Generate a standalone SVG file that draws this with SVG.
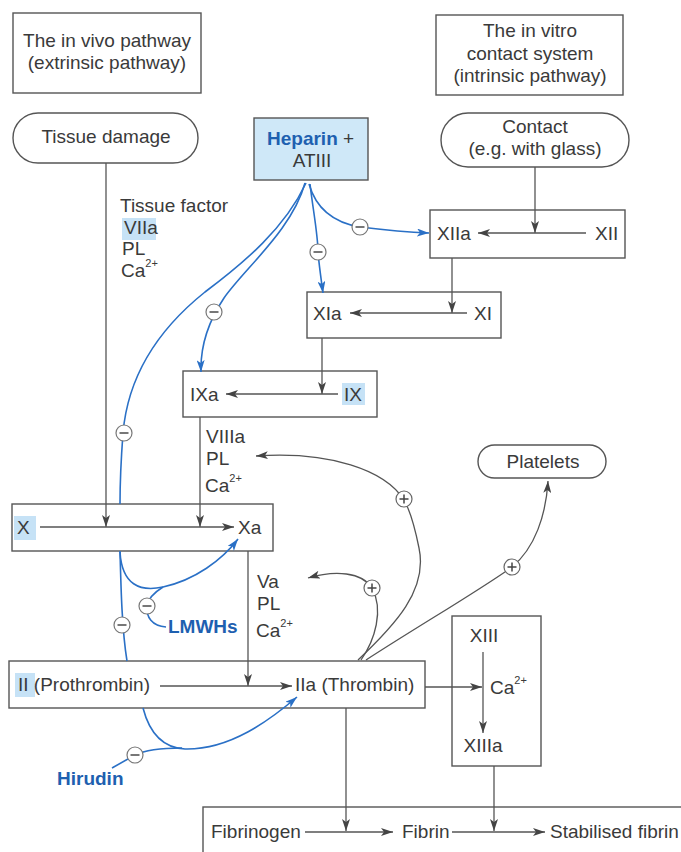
<svg xmlns="http://www.w3.org/2000/svg" xmlns:xlink="http://www.w3.org/1999/xlink" width="681" height="852" viewBox="0 0 681 852">
<style>
text{font-family:"Liberation Sans",Arial,sans-serif;font-size:19px;fill:#3a3a3a}
.c{text-anchor:middle}
.b{font-weight:bold;fill:#1e60b0}
.sup{font-size:11px}
.box{fill:#fff;stroke:#555;stroke-width:1.4}
.hl{fill:#c6e2f6}
.ln{fill:none;stroke:#555;stroke-width:1.3}
.bl{fill:none;stroke:#2a70c6;stroke-width:1.6}
</style>
<defs>
<marker id="ag" viewBox="0 0 12 8" refX="12" refY="4" markerWidth="12" markerHeight="8" markerUnits="userSpaceOnUse" orient="auto"><path d="M0,0 L12,4 L0,8 L3,4 z" fill="#444"/></marker>
<marker id="ab" viewBox="0 0 12 8" refX="12" refY="4" markerWidth="12" markerHeight="8" markerUnits="userSpaceOnUse" orient="auto"><path d="M0,0 L12,4 L0,8 L3,4 z" fill="#2a70c6"/></marker>
<g id="minus"><circle r="8" fill="#fff" stroke="#777" stroke-width="1.2"/><line x1="-4.5" y1="0" x2="4.5" y2="0" stroke="#555" stroke-width="1.6"/></g>
<g id="plus"><circle r="8" fill="#fff" stroke="#666" stroke-width="1.2"/><line x1="-4.5" y1="0" x2="4.5" y2="0" stroke="#444" stroke-width="1.5"/><line x1="0" y1="-4.5" x2="0" y2="4.5" stroke="#444" stroke-width="1.5"/></g>
</defs>

<g id="invivo"><rect class="box" x="13" y="13" width="188" height="80"/><text class="c" x="107" y="47">The in vivo pathway</text><text class="c" x="107" y="69">(extrinsic pathway)</text></g>
<g id="tissue-damage"><rect class="box" x="13" y="113" width="185" height="50" rx="25"/><text class="c" x="106" y="143">Tissue damage</text></g>
<g id="heparin"><rect x="254" y="118" width="114" height="62" fill="#cfe8f8" stroke="#555" stroke-width="1.4"/><text x="267" y="145"><tspan class="b">Heparin</tspan> +</text><text class="c" x="312" y="167">ATIII</text></g>
<g id="invitro"><rect class="box" x="436" y="15" width="187" height="80"/><text class="c" x="530" y="37">The in vitro</text><text class="c" x="530" y="60">contact system</text><text class="c" x="530" y="82">(intrinsic pathway)</text></g>
<g id="contact"><rect class="box" x="441" y="113" width="188" height="54" rx="27"/><text class="c" x="535" y="133">Contact</text><text class="c" x="535" y="155">(e.g. with glass)</text></g>
<g id="tf-label"><rect class="hl" x="122" y="218" width="34" height="22"/><text x="120" y="212">Tissue factor</text><text x="124" y="234">VIIa</text><text x="122" y="255">PL</text><text x="121" y="277">Ca<tspan class="sup" dy="-10">2+</tspan></text></g>
<g id="xii-box"><rect class="box" x="430" y="210" width="195" height="48"/><text x="437" y="240">XIIa</text><text x="595" y="240">XII</text></g>
<g id="xi-box"><rect class="box" x="307" y="292" width="194" height="46"/><text x="313" y="320">XIa</text><text x="474" y="320">XI</text></g>
<g id="ix-box"><rect class="box" x="183" y="371" width="194" height="46"/><rect class="hl" x="342" y="383" width="23" height="22"/><text x="190" y="401">IXa</text><text x="344" y="401">IX</text></g>
<g id="viii-label"><text x="206" y="443">VIIIa</text><text x="206" y="465">PL</text><text x="205" y="492">Ca<tspan class="sup" dy="-10">2+</tspan></text></g>
<g id="x-box"><rect class="box" x="12" y="504" width="261" height="47"/><rect class="hl" x="14" y="516" width="22" height="24"/><text x="17" y="534">X</text><text x="238" y="534">Xa</text></g>
<g id="v-label"><text x="257" y="588">Va</text><text x="257" y="610">PL</text><text x="256" y="637">Ca<tspan class="sup" dy="-10">2+</tspan></text></g>
<g id="lmwhs"><text class="b" x="168" y="633">LMWHs</text></g>
<g id="ii-box"><rect class="box" x="9" y="661" width="416" height="47"/><rect class="hl" x="15" y="673" width="20" height="24"/><text x="18" y="691">II (Prothrombin)</text><text x="295" y="691">IIa (Thrombin)</text></g>
<g id="hirudin"><text class="b" x="57" y="785">Hirudin</text></g>
<g id="xiii-box"><rect class="box" x="452" y="616" width="89" height="150"/><text class="c" x="484" y="642">XIII</text><text x="490" y="694">Ca<tspan class="sup" dy="-10">2+</tspan></text><text class="c" x="483" y="752">XIIIa</text></g>
<g id="platelets"><rect class="box" x="478" y="445" width="128" height="33" rx="16.5"/><text class="c" x="543" y="468">Platelets</text></g>
<g id="fibrin-box"><rect class="box" x="203" y="807" width="500" height="60"/><text x="211" y="838">Fibrinogen</text><text x="402" y="838">Fibrin</text><text x="550" y="838">Stabilised fibrin</text></g>

<g id="connectors">
<line class="ln" x1="106" y1="163" x2="106" y2="527" marker-end="url(#ag)"/>
<line class="ln" x1="535" y1="167" x2="535" y2="233" marker-end="url(#ag)"/>
<line class="ln" x1="586" y1="233" x2="478" y2="233" marker-end="url(#ag)"/>
<line class="ln" x1="452" y1="258" x2="452" y2="313" marker-end="url(#ag)"/>
<line class="ln" x1="467" y1="313" x2="350" y2="313" marker-end="url(#ag)"/>
<line class="ln" x1="322" y1="338" x2="322" y2="394" marker-end="url(#ag)"/>
<line class="ln" x1="338" y1="394" x2="226" y2="394" marker-end="url(#ag)"/>
<line class="ln" x1="200" y1="417" x2="200" y2="527" marker-end="url(#ag)"/>
<line class="ln" x1="40" y1="527" x2="234" y2="527" marker-end="url(#ag)"/>
<line class="ln" x1="248" y1="551" x2="248" y2="686" marker-end="url(#ag)"/>
<line class="ln" x1="160" y1="686" x2="292" y2="686" marker-end="url(#ag)"/>
<line class="ln" x1="425" y1="687" x2="482" y2="687" marker-end="url(#ag)"/>
<line class="ln" x1="483" y1="652" x2="483" y2="733" marker-end="url(#ag)"/>
<line class="ln" x1="346" y1="708" x2="346" y2="831" marker-end="url(#ag)"/>
<line class="ln" x1="494" y1="766" x2="494" y2="831" marker-end="url(#ag)"/>
<line class="ln" x1="305" y1="832" x2="393" y2="832" marker-end="url(#ag)"/>
<line class="ln" x1="452" y1="832" x2="545" y2="832" marker-end="url(#ag)"/>
<path class="ln" d="M358,660 C395,625 428,590 419,548 C415,528 411,512 404,500 C385,470 330,451 256,456" marker-end="url(#ag)"/>
<path class="ln" d="M361,660 C375,640 384,610 372,588 C362,572 335,570 308,578" marker-end="url(#ag)"/>
<path class="ln" d="M366,660 C420,625 480,590 512,567 C535,548 546,515 548,481" marker-end="url(#ag)"/>
<use href="#plus" x="404" y="499"/>
<use href="#plus" x="372" y="588"/>
<use href="#plus" x="512" y="567"/>
<path class="bl" d="M309,184 C315,205 330,222 360,227 C385,230 405,232 429,233" marker-end="url(#ab)"/>
<path class="bl" d="M310,184 C313,210 318,235 318,252 C319,265 321,278 323,293" marker-end="url(#ab)"/>
<path class="bl" d="M305,183 C292,230 245,268 224,298 C212,316 200,340 201,372" marker-end="url(#ab)"/>
<path class="bl" d="M306,183 C285,228 245,262 205,292 C160,328 128,375 123,433 C121,460 120,480 120,504"/>
<use href="#minus" x="360" y="227"/>
<use href="#minus" x="318" y="252"/>
<use href="#minus" x="214" y="312"/>
<use href="#minus" x="124" y="433"/>
<path class="bl" d="M120,551 C121,590 122,630 127,661"/>
<use href="#minus" x="122" y="625"/>
<path class="bl" d="M120,552 C122,585 140,592 163,587 C195,580 222,560 238,539" marker-end="url(#ab)"/>
<path class="bl" d="M166,627 C152,626 146,617 147,606 C148,598 155,592 163,587"/>
<use href="#minus" x="147" y="606"/>
<path class="bl" d="M143,708 C150,735 165,748 185,749 C230,750 270,720 297,697" marker-end="url(#ab)"/>
<path class="bl" d="M112,768 L135,755 C145,750 160,748 182,748"/>
<use href="#minus" x="135" y="755"/>
</g>
</svg>
